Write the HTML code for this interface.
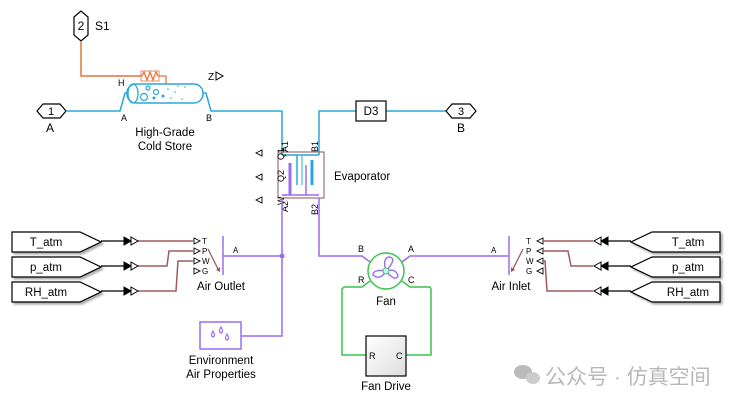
<!DOCTYPE html>
<html><head><meta charset="utf-8"><style>
html,body{margin:0;padding:0;background:#fff;width:732px;height:405px;overflow:hidden;}
svg{display:block;font-family:"Liberation Sans",Arial,sans-serif;}
</style></head><body>
<svg width="732" height="405" viewBox="0 0 732 405" xmlns="http://www.w3.org/2000/svg">
<defs>
<linearGradient id="g" x1="0" y1="0" x2="1" y2="1"><stop offset="0" stop-color="#fff"/><stop offset="1" stop-color="#ddd"/></linearGradient>
</defs>
<polygon points="74,17 81,11 88,17 88,35 81,41 74,35" fill="#fff" stroke="#000" stroke-width="1.2"/>
<text x="81" y="30" font-size="12" text-anchor="middle">2</text>
<text x="95" y="30" font-size="12">S1</text>
<polyline points="81,41 81,76 142,76" fill="none" stroke="#e8733a" stroke-width="1.5"/>
<polyline points="142,76 144,72 147,80 150,72 153,80 156,72 158,76 166,76 166,84" fill="none" stroke="#e8733a" stroke-width="1.3"/>
<rect x="141" y="71" width="18" height="10" fill="none" stroke="#e8733a" stroke-width="0.8"/>
<text x="118" y="86" font-size="9">H</text>
<text x="208" y="80" font-size="10">Z</text><polygon points="216,72 223,76 216,80" fill="none" stroke="#000"/>
<rect x="127" y="84" width="76" height="19" rx="9" fill="#fff" stroke="#29a8d8" stroke-width="1.5"/>
<ellipse cx="133" cy="93.5" rx="5" ry="9.5" fill="none" stroke="#29a8d8" stroke-width="1.3"/>
<g fill="none" stroke="#29a8d8" stroke-width="1.2"><circle cx="144" cy="97" r="3.5"/><circle cx="148" cy="88" r="2"/><circle cx="156" cy="92" r="2.5"/></g>
<g fill="#29a8d8"><circle cx="154" cy="98" r="1.5"/><circle cx="163" cy="96" r="1.5"/><circle cx="168" cy="89" r="0.8"/><circle cx="175" cy="92" r="0.8"/><circle cx="171" cy="98" r="0.8"/><circle cx="182" cy="99" r="0.8"/><circle cx="185" cy="87" r="0.8"/><circle cx="178" cy="86" r="0.8"/></g>
<text x="165" y="136" font-size="11.5" text-anchor="middle">High-Grade</text>
<text x="165" y="150" font-size="11.5" text-anchor="middle">Cold Store</text>
<polygon points="37,111 43,104 60,104 66,111 60,118 43,118" fill="#fff" stroke="#000" stroke-width="1.2"/>
<text x="51" y="115" font-size="11" text-anchor="middle">1</text>
<text x="50" y="132" font-size="12" text-anchor="middle">A</text>
<g fill="none" stroke="#29a8d8" stroke-width="1.5">
<polyline points="66,111 120,111 125,93 127,93"/>
<polyline points="203,93 206,93 211,111 282,111 282,155"/>
<polyline points="319,155 319,111 356,111"/>
<polyline points="386,111 446,111"/>
<line x1="282" y1="155" x2="319" y2="155"/>
<line x1="297" y1="155" x2="297" y2="185"/><line x1="302" y1="155" x2="302" y2="185" stroke-width="1"/>
<line x1="312" y1="160" x2="312" y2="185" stroke-width="3"/>
</g>
<text x="121" y="121" font-size="9">A</text><text x="206" y="121" font-size="9">B</text>
<rect x="356" y="101" width="30" height="20" fill="#fff" stroke="#000" stroke-width="1.2"/>
<text x="371" y="115" font-size="11.5" text-anchor="middle">D3</text>
<polygon points="446,111 452,104 470,104 476,111 470,118 452,118" fill="#fff" stroke="#000" stroke-width="1.2"/>
<text x="461" y="115" font-size="11" text-anchor="middle">3</text>
<text x="461" y="132" font-size="12" text-anchor="middle">B</text>
<rect x="278" y="152" width="46" height="46" fill="none" stroke="#a07070" stroke-width="1.2"/>
<g fill="none" stroke="#9b6cf0" stroke-width="1.5">
<line x1="282" y1="195" x2="319" y2="195"/><line x1="290" y1="163" x2="290" y2="195" stroke-width="3"/>
<line x1="306" y1="165" x2="306" y2="195"/>
</g>
<text x="334" y="180" font-size="11.5">Evaporator</text>
<g font-size="9">
<text transform="translate(288,152) rotate(-90)">A1</text>
<text transform="translate(318,152) rotate(-90)">B1</text>
<text transform="translate(284,160) rotate(-90)">Q1</text>
<text transform="translate(284,182) rotate(-90)">Q2</text>
<text transform="translate(284,205) rotate(-90)">W</text>
<text transform="translate(288,212) rotate(-90)">A2</text>
<text transform="translate(318,215) rotate(-90)">B2</text>
</g>
<g fill="none" stroke="#000" stroke-width="0.9">
<polygon points="262,150 256,153 262,156"/><polygon points="262,174 256,177 262,180"/><polygon points="262,197 256,200 262,203"/>
</g>
<g fill="none" stroke="#9b6cf0" stroke-width="1.5">
<polyline points="282,198 282,336 241,336"/>
<polyline points="223,256 282,256"/>
<polyline points="319,198 319,256 362,256 370,262"/>
<polyline points="402,262 410,256 508,256"/>
<line x1="223" y1="236" x2="223" y2="275"/>
<line x1="509" y1="236" x2="509" y2="275"/>
</g>
<circle cx="282" cy="256" r="2.5" fill="#9b6cf0"/>
<text x="233" y="253" font-size="8">A</text>
<text x="491" y="253" font-size="8">A</text>
<rect x="200" y="322" width="41" height="27" fill="#fff" stroke="#9b6cf0" stroke-width="1.5"/>
<g fill="none" stroke="#9b6cf0" stroke-width="1.2"><path d="M213,331 q-3,5 0,6 q3,-1 0,-6z"/><path d="M221,327 q-3,5 0,6 q3,-1 0,-6z"/><path d="M227,334 q-3,5 0,6 q3,-1 0,-6z"/></g>
<text x="221" y="364" font-size="11.5" text-anchor="middle">Environment</text>
<text x="221" y="378" font-size="11.5" text-anchor="middle">Air Properties</text>
<circle cx="386" cy="271" r="18" fill="#fff" stroke="#3cc44c" stroke-width="1.5"/>
<g fill="none" stroke="#9b6cf0" stroke-width="1.4">
<path d="M386,271 q-4,-14 4,-14 q7,2 -4,14z"/><path d="M386,271 q10,-3 12,5 q-3,6 -12,-5z"/><path d="M386,271 q-6,10 -13,4 q0,-6 13,-4z"/>
</g>
<circle cx="386" cy="271" r="3" fill="#cff" stroke="#3cc44c"/>
<text x="358" y="252" font-size="9">B</text><text x="408" y="252" font-size="9">A</text>
<text x="358" y="283" font-size="9">R</text><text x="408" y="283" font-size="9">C</text>
<text x="386" y="305" font-size="11.5" text-anchor="middle">Fan</text>
<g fill="none" stroke="#3cc44c" stroke-width="1.5">
<polyline points="370,281 362,287 344,287 342,289 342,355 366,355"/>
<polyline points="402,281 410,287 430,287 431,289 431,355 406,355"/>
</g>
<rect x="366" y="336" width="40" height="40" fill="url(#g)" stroke="#000" stroke-width="1.2"/>
<text x="369" y="359" font-size="9">R</text><text x="396" y="359" font-size="9">C</text>
<text x="386" y="390" font-size="11.5" text-anchor="middle">Fan Drive</text>
<g font-size="8">
<text x="202" y="244">T</text><text x="202" y="254">P</text><text x="202" y="264">W</text><text x="202" y="274">G</text>
<text x="526" y="244">T</text><text x="526" y="254">P</text><text x="526" y="264">W</text><text x="526" y="274">G</text>
</g>
<g fill="none" stroke="#000" stroke-width="0.9">
<polygon points="194,238 200,241 194,244"/><polygon points="194,248 200,251 194,254"/><polygon points="194,258 200,261 194,264"/><polygon points="194,268 200,271 194,274"/>
<polygon points="543,238 537,241 543,244"/><polygon points="543,248 537,251 543,254"/><polygon points="543,258 537,261 543,264"/><polygon points="543,268 537,271 543,274"/>
</g>
<line x1="208" y1="249" x2="218" y2="269" stroke="#a05a5a" stroke-width="1.3"/><polygon points="216,270 220,272 220,267" fill="#a05a5a"/>
<line x1="523" y1="249" x2="513" y2="269" stroke="#a05a5a" stroke-width="1.3"/><polygon points="511,267 511,272 515,270" fill="#a05a5a"/>
<text x="221" y="290" font-size="11.5" text-anchor="middle">Air Outlet</text>
<text x="511" y="290" font-size="11.5" text-anchor="middle">Air Inlet</text>
<g fill="none" stroke="#a05a5a" stroke-width="1.5">
<polyline points="138,241 194,241"/>
<polyline points="138,266 167,266 169,251 194,251"/>
<polyline points="138,291 176,291 178,261 194,261"/>
<polyline points="543,241 593,241"/>
<polyline points="543,251 568,251 571,266 593,266"/>
<polyline points="543,261 545,261 547,291 593,291"/>
</g>
<g stroke="#000" stroke-width="1.2">
<polygon points="12,232 80,232 101,242 80,252 12,252" fill="#fff" style="filter:drop-shadow(2px 2px 1px #aaa)"/>
<polygon points="12,257 80,257 101,267 80,277 12,277" fill="#fff" style="filter:drop-shadow(2px 2px 1px #aaa)"/>
<polygon points="12,282 80,282 101,292 80,302 12,302" fill="#fff" style="filter:drop-shadow(2px 2px 1px #aaa)"/>
<polygon points="720,232 652,232 631,242 652,252 720,252" fill="#fff" style="filter:drop-shadow(2px 2px 1px #aaa)"/>
<polygon points="720,257 652,257 631,267 652,277 720,277" fill="#fff" style="filter:drop-shadow(2px 2px 1px #aaa)"/>
<polygon points="720,282 652,282 631,292 652,302 720,302" fill="#fff" style="filter:drop-shadow(2px 2px 1px #aaa)"/>
<line x1="101" y1="241" x2="124" y2="241"/><line x1="101" y1="266" x2="124" y2="266"/><line x1="101" y1="291" x2="124" y2="291"/>
<line x1="608" y1="241" x2="631" y2="241"/><line x1="608" y1="266" x2="631" y2="266"/><line x1="608" y1="291" x2="631" y2="291"/>
</g>
<g stroke="#000" stroke-width="1">
<polygon points="124,237 131,241 124,245" fill="#000"/><polygon points="131,237 138,241 131,245" fill="#fff"/>
<polygon points="124,262 131,266 124,270" fill="#000"/><polygon points="131,262 138,266 131,270" fill="#fff"/>
<polygon points="124,287 131,291 124,295" fill="#000"/><polygon points="131,287 138,291 131,295" fill="#fff"/>
<polygon points="608,237 601,241 608,245" fill="#000"/><polygon points="601,237 594,241 601,245" fill="#fff"/>
<polygon points="608,262 601,266 608,270" fill="#000"/><polygon points="601,262 594,266 601,270" fill="#fff"/>
<polygon points="608,287 601,291 608,295" fill="#000"/><polygon points="601,287 594,291 601,295" fill="#fff"/>
</g>
<g font-size="11.5" text-anchor="middle">
<text x="46" y="246">T_atm</text><text x="46" y="271">p_atm</text><text x="46" y="296">RH_atm</text>
<text x="688" y="246">T_atm</text><text x="688" y="271">p_atm</text><text x="688" y="296">RH_atm</text>
</g>
<g fill="#bbb"><ellipse cx="523" cy="372" rx="9" ry="7"/><ellipse cx="533" cy="378" rx="7" ry="6" fill="#ccc"/></g>
<text x="545" y="384" font-size="21" fill="#b8b8b8" font-family="Liberation Sans,'Noto Sans CJK SC',sans-serif">公众号 · 仿真空间</text>
</svg>
</body></html>
